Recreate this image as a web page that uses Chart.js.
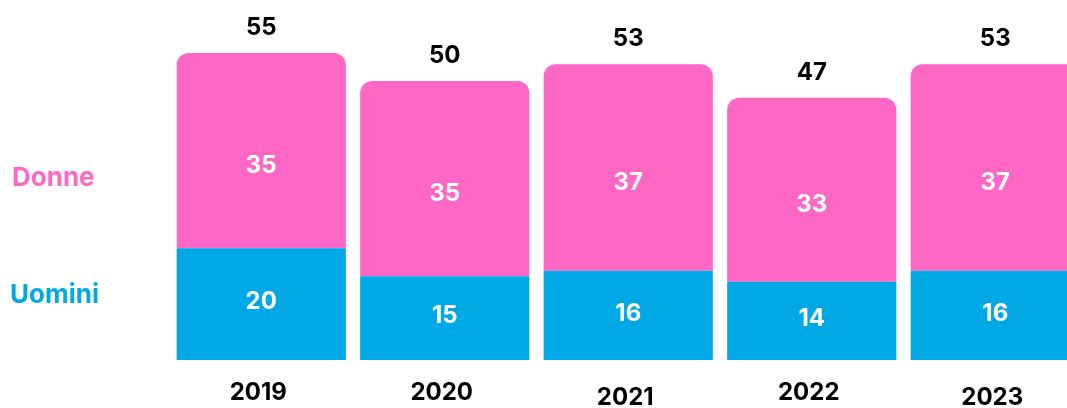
<!DOCTYPE html>
<html>
<head>
<meta charset="utf-8">
<script src="https://cdn.jsdelivr.net/npm/chart.js@4"></script>
<style>
  html, body { margin: 0; padding: 0; background: #fff; overflow: hidden; }
  .box { position: absolute; left: 0; top: 0; width: 1087px; height: 408px; }
</style>
</head>
<body>
<div class="box"><canvas id="barChart"></canvas></div>
<script>
const years = ["2019", "2020", "2021", "2022", "2023"];
const uomini = [20, 15, 16, 14, 16];
const donne = [35, 35, 37, 33, 37];
const totals = [55, 50, 53, 47, 53];

const PINK = "#ff67c4";
const BLUE = "#00a8e6";
const FONT = "Inter, 'Noto Sans', sans-serif";

// labels in segments, totals on top, years below, side legend
const labelsPlugin = {
  id: "labels",
  afterDatasetsDraw(chart) {
    const ctx = chart.ctx;
    ctx.save();
    ctx.font = "bold 24px " + FONT;
    ctx.textAlign = "center";
    ctx.textBaseline = "middle";

    chart.data.datasets.forEach((ds, i) => {
      const meta = chart.getDatasetMeta(i);
      meta.data.forEach((bar, j) => {
        const mid = (bar.y + bar.base) / 2;
        ctx.fillStyle = "#fff";
        ctx.fillText(ds.data[j], bar.x, mid + (i === 1 ? 15 : -2));
      });
    });

    const top = chart.getDatasetMeta(1);
    const yScale = chart.scales.y;
    top.data.forEach((bar, j) => {
      ctx.fillStyle = "#000";
      ctx.fillText(totals[j], bar.x, yScale.getPixelForValue(totals[j]) - 25);
      const drop = (j === 2 || j === 4) ? 5 : 0;
      ctx.fillText(years[j], bar.x - 3, 393 + drop);
    });

    ctx.textAlign = "left";
    ctx.font = "bold 26px " + FONT;
    ctx.fillStyle = PINK;
    ctx.fillText("Donne", 12, 178);
    ctx.fillStyle = BLUE;
    ctx.fillText("Uomini", 10, 295);
    ctx.restore();
  }
};

const ctx = document.getElementById("barChart").getContext("2d");
new Chart(ctx, {
  type: "bar",
  data: {
    labels: years,
    datasets: [
      {
        label: "Uomini",
        data: uomini,
        backgroundColor: BLUE,
        borderRadius: 0,
      },
      {
        label: "Donne",
        data: donne,
        backgroundColor: PINK,
        borderRadius: { topLeft: 12, topRight: 12, bottomLeft: 0, bottomRight: 0 },
        borderSkipped: false,
      },
    ],
  },
  options: {
    responsive: true,
    maintainAspectRatio: false,
    animation: false,
    events: [],
    layout: {
      padding: { left: 169.5, right: 0, top: 0, bottom: 48 },
    },
    datasets: {
      bar: { categoryPercentage: 1, barPercentage: 0.922 },
    },
    scales: {
      x: { stacked: true, display: false },
      y: { stacked: true, display: false, min: 0, max: 64.5 },
    },
    plugins: {
      legend: { display: false },
      tooltip: { enabled: false },
    },
  },
  plugins: [labelsPlugin],
});
</script>
</body>
</html>
